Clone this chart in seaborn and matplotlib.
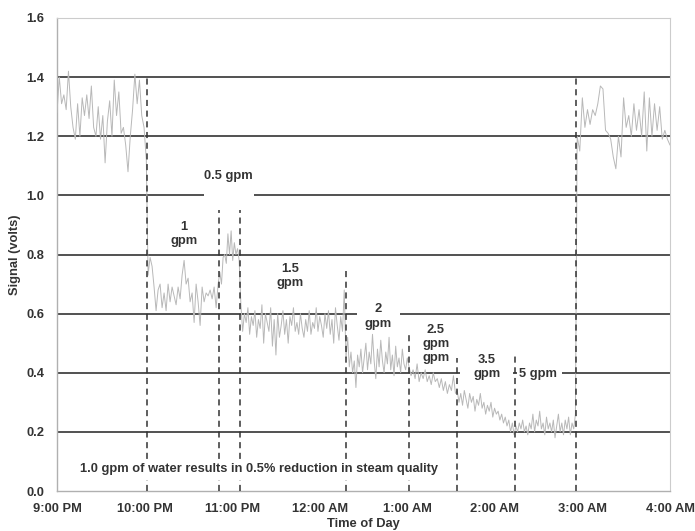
import numpy as np
import pandas as pd
import matplotlib
matplotlib.use("Agg")
import matplotlib.pyplot as plt
import seaborn as sns

# ---------------- data ----------------
tick_hours = [0, 1, 2, 3, 4, 5, 6, 7]
tick_labels = ["9:00 PM", "10:00 PM", "11:00 PM", "12:00 AM",
               "1:00 AM", "2:00 AM", "3:00 AM", "4:00 AM"]
y_ticks = [0.0, 0.2, 0.4, 0.6, 0.8, 1.0, 1.2, 1.4, 1.6]

# segment time spans (hours after 9:00 PM)
seg_spans = [(0.00, 1.02), (1.04, 1.84), (1.86, 2.08), (2.10, 3.28),
             (3.30, 4.00), (4.02, 4.55), (4.57, 5.22), (5.24, 5.92),
             (5.94, 7.00)]

seg_base1 = [1.28, 1.40, 1.31, 1.34, 1.29, 1.42, 1.30, 1.23, 1.19, 1.31,
             1.20, 1.33, 1.27, 1.34, 1.26, 1.37, 1.23, 1.20, 1.30, 1.19,
             1.27, 1.11, 1.25, 1.32, 1.20, 1.39, 1.27, 1.35, 1.21, 1.23,
             1.17, 1.08, 1.20, 1.29, 1.41, 1.31, 1.39, 1.27, 1.23, 1.12]
seg_1gpm = [0.73, 0.79, 0.76, 0.69, 0.61, 0.68, 0.70, 0.62, 0.67, 0.61,
            0.70, 0.64, 0.69, 0.66, 0.63, 0.69, 0.65, 0.73, 0.78, 0.70,
            0.72, 0.64, 0.67, 0.57, 0.70, 0.64, 0.56, 0.69, 0.64, 0.67,
            0.66, 0.68, 0.65, 0.69, 0.62, 0.70]
seg_05gpm = [0.74, 0.70, 0.79, 0.80, 0.77, 0.87, 0.80, 0.88, 0.78, 0.84,
             0.80, 0.82, 0.78]
seg_15gpm = [0.63, 0.54, 0.60, 0.57, 0.62, 0.53, 0.59, 0.56, 0.61, 0.52,
             0.58, 0.55, 0.63, 0.50, 0.60, 0.57, 0.54, 0.62, 0.49, 0.58,
             0.46, 0.60, 0.52, 0.56, 0.61, 0.53, 0.58, 0.50, 0.59, 0.56,
             0.62, 0.54, 0.57, 0.53, 0.60, 0.55, 0.52, 0.58, 0.54, 0.61,
             0.53, 0.57, 0.55, 0.62, 0.54, 0.59, 0.56, 0.52, 0.60, 0.55,
             0.61, 0.53, 0.58, 0.50, 0.62, 0.56, 0.51, 0.59, 0.54, 0.68]
seg_2gpm = [0.45, 0.52, 0.42, 0.47, 0.40, 0.44, 0.35, 0.46, 0.42, 0.48,
            0.40, 0.45, 0.50, 0.41, 0.47, 0.43, 0.53, 0.44, 0.38, 0.48,
            0.42, 0.51, 0.44, 0.40, 0.47, 0.43, 0.52, 0.41, 0.46, 0.39,
            0.49, 0.42, 0.45, 0.40, 0.48, 0.43, 0.41, 0.45]
seg_25gpm = [0.42, 0.39, 0.41, 0.38, 0.43, 0.37, 0.40, 0.38, 0.41, 0.37,
             0.39, 0.36, 0.40, 0.37, 0.38, 0.35, 0.38, 0.34, 0.37, 0.33,
             0.36, 0.34, 0.39, 0.33]
seg_35gpm = [0.34, 0.30, 0.33, 0.29, 0.34, 0.31, 0.28, 0.33, 0.30, 0.32,
             0.27, 0.31, 0.29, 0.33, 0.28, 0.30, 0.26, 0.29, 0.27, 0.30,
             0.25, 0.28, 0.26, 0.27, 0.24, 0.26, 0.23, 0.25, 0.22, 0.24,
             0.20, 0.23, 0.19]
seg_5gpm = [0.22, 0.20, 0.23, 0.21, 0.24, 0.20, 0.22, 0.19, 0.23, 0.21,
            0.26, 0.20, 0.24, 0.22, 0.27, 0.21, 0.23, 0.19, 0.25, 0.21,
            0.23, 0.20, 0.24, 0.18, 0.22, 0.26, 0.20, 0.23, 0.19, 0.24,
            0.21, 0.25, 0.19, 0.23, 0.21, 0.26]
seg_base2 = [1.20, 1.15, 1.33, 1.23, 1.29, 1.24, 1.29, 1.27, 1.31, 1.37,
             1.36, 1.22, 1.21, 1.19, 1.13, 1.09, 1.20, 1.13, 1.33, 1.23,
             1.27, 1.20, 1.31, 1.22, 1.29, 1.20, 1.35, 1.15, 1.33, 1.20,
             1.31, 1.22, 1.30, 1.19, 1.22, 1.19, 1.17]
segments = [seg_base1, seg_1gpm, seg_05gpm, seg_15gpm, seg_2gpm,
            seg_25gpm, seg_35gpm, seg_5gpm, seg_base2]

grid_levels = [0.2, 0.4, 0.6, 0.8, 1.0, 1.2, 1.4]
grid_gaps = {1.0: [(1.68, 2.25)], 0.6: [(3.43, 3.92)],
             0.4: [(4.60, 5.21), (5.25, 5.77)]}

dash_x = [1.03, 1.85, 2.09, 3.30, 4.02, 4.57, 5.23, 5.93]
dash_top = [1.41, 0.95, 0.95, 0.755, 0.54, 0.45, 0.46, 1.41]

flow_labels = ["0.5 gpm", "1\ngpm", "1.5\ngpm", "2\ngpm",
               "2.5\ngpm\ngpm", "3.5\ngpm", "5 gpm"]
flow_label_x = [1.956, 1.453, 2.665, 3.672, 4.323, 4.907, 5.490]
flow_label_y = [1.066, 0.869, 0.727, 0.590, 0.497, 0.419, 0.396]
note_text = "1.0 gpm of water results in 0.5% reduction in steam quality"

# ---------------- build table ----------------
t_all, v_all = [], []
for (a, b), vals in zip(seg_spans, segments):
    t_all.extend(np.linspace(a, b, len(vals)))
    v_all.extend(vals)
df = pd.DataFrame({"hours": t_all, "signal": v_all})

# ---------------- plot ----------------
sns.set_theme(style="white")
plt.rcParams["font.family"] = ["Liberation Sans", "DejaVu Sans"]
plt.rcParams["font.weight"] = "bold"

fig = plt.figure(figsize=(6.95, 5.31), dpi=100)
ax = fig.add_axes([57 / 695, 40 / 531, 613 / 695, 473 / 531])

TXT = "#333333"
FS = 9.3
x0, x1 = 0, 7

# gridlines with gaps
for lvl in grid_levels:
    pieces = []
    start = x0
    for g0, g1 in grid_gaps.get(lvl, []):
        pieces.append((start, g0))
        start = g1
    pieces.append((start, x1))
    for p0, p1 in pieces:
        ax.hlines(lvl, p0, p1, colors="#333333", linewidth=1.2, zorder=2)

sns.lineplot(data=df, x="hours", y="signal", ax=ax, color="#b8b8b8",
             linewidth=0.7, estimator=None, sort=False, zorder=3)

ax.vlines(dash_x, 0, dash_top, colors="#333333", linewidth=1.1,
          linestyles=(0, (4, 3)), zorder=4)

for s, xx, yy in zip(flow_labels, flow_label_x, flow_label_y):
    ax.text(xx, yy, s, ha="center", va="center", fontsize=FS,
            fontweight="bold", color=TXT, linespacing=1.25, zorder=5)
ax.text(2.31, 0.074, note_text, ha="center", va="center", fontsize=FS,
        fontweight="bold", color=TXT, zorder=6,
        bbox=dict(boxstyle="square,pad=0.35", facecolor="white",
                  edgecolor="none"))

ax.set_xlim(x0, x1)
ax.set_ylim(0, 1.6)
ax.set_xticks(tick_hours)
ax.set_xticklabels(tick_labels)
ax.set_yticks(y_ticks)
ax.set_yticklabels([f"{v:.1f}" for v in y_ticks])
for lab in ax.get_xticklabels() + ax.get_yticklabels():
    lab.set_fontweight("bold")
    lab.set_fontsize(FS)
    lab.set_color(TXT)

ax.set_xlabel("Time of Day", fontsize=FS, fontweight="bold", color=TXT,
              labelpad=2)
ax.set_ylabel("Signal (volts)", fontsize=FS, fontweight="bold", color=TXT,
              labelpad=4)

for side in ["left", "bottom"]:
    ax.spines[side].set_color("#b0b0b0")
    ax.spines[side].set_linewidth(1.0)
for side in ["top", "right"]:
    ax.spines[side].set_color("#cccccc")
    ax.spines[side].set_linewidth(0.8)
ax.tick_params(axis="x", direction="out", length=4, width=0.8,
               color="#b0b0b0", pad=5)
ax.tick_params(axis="y", direction="out", length=3, width=0.8,
               color="#b0b0b0", pad=6)
ax.grid(False)

fig.savefig("out.png", dpi=100)
